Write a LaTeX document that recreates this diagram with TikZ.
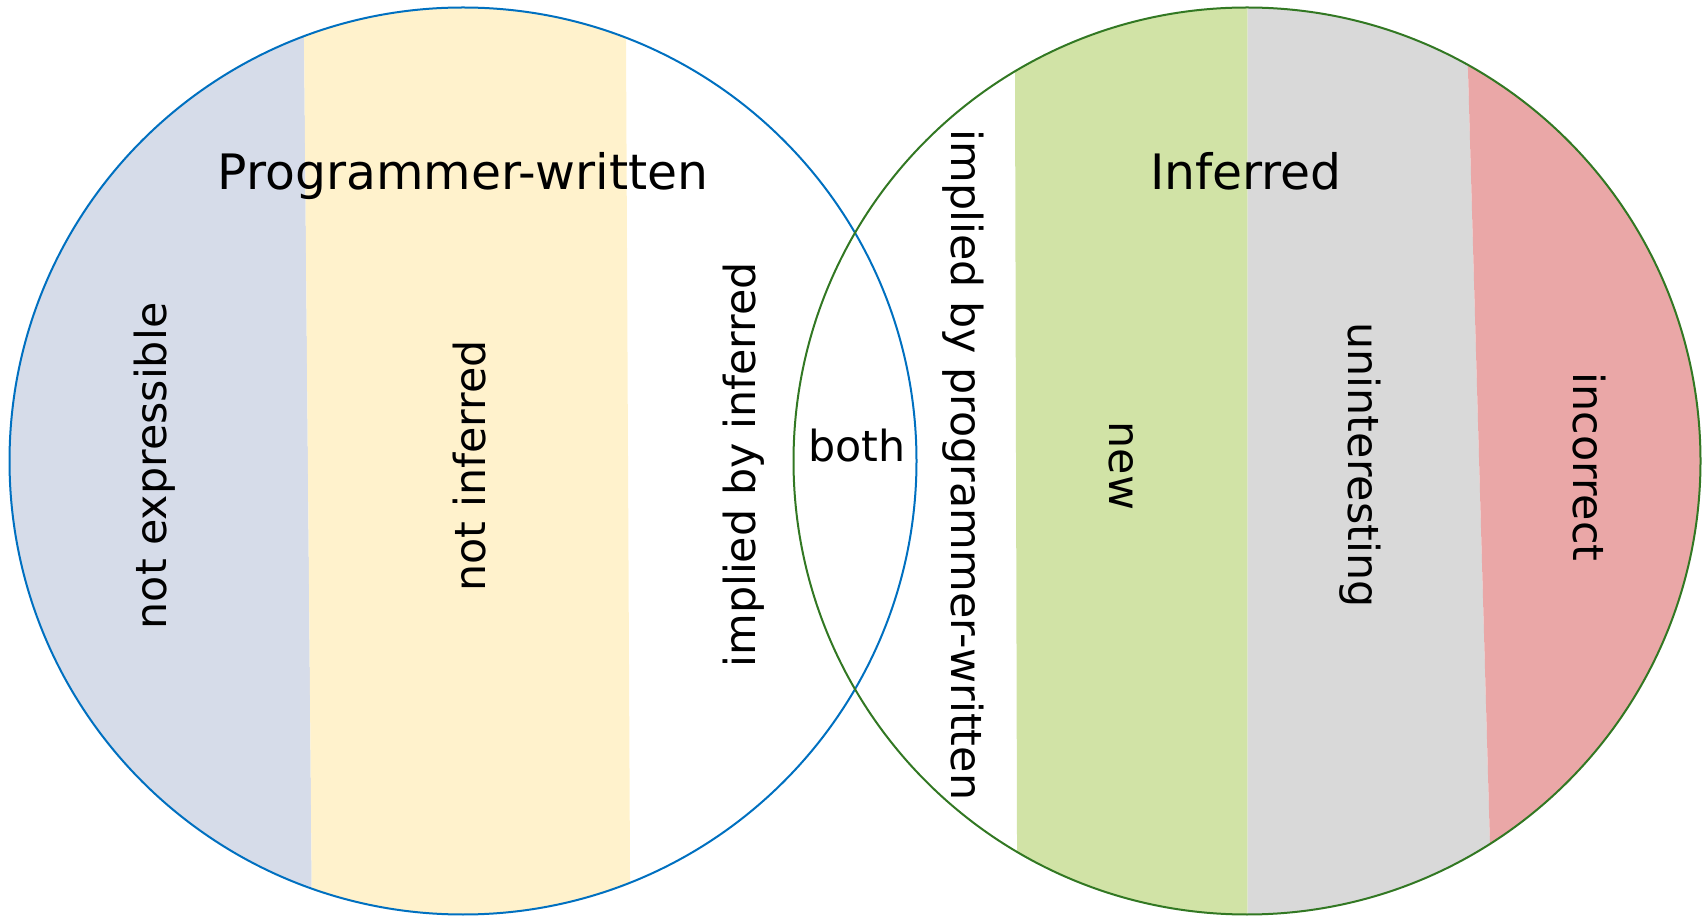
\documentclass[tikz,border=0pt]{standalone}
\usepackage{fontspec}
\setmainfont{DejaVu Sans}
\definecolor{writtenline}{RGB}{0,112,192}
\definecolor{inferredline}{RGB}{50,120,35}
\definecolor{exprfill}{RGB}{214,220,233}
\definecolor{notinffill}{RGB}{255,242,204}
\definecolor{newfill}{RGB}{209,227,166}
\definecolor{unintfill}{RGB}{217,217,217}
\definecolor{incorrfill}{RGB}{234,167,167}

\begin{document}
\begin{tikzpicture}[x=0.5pt, y=0.5pt,
    bandtext/.style={font=\fontsize{21.4}{25}\selectfont, inner sep=0pt},
    settitle/.style={font=\fontsize{24.4}{29}\selectfont, inner sep=0pt, anchor=base}]
    \useasboundingbox (0,0) rectangle (1702,916);
    \coordinate (W) at (463,455);
    \coordinate (I) at (1247,455);
    \begin{scope}
        \clip (W) circle (453.5);
        \fill[exprfill] (0,0) -- (312,0) -- (303.7,916) -- (0,916) -- cycle;
        \fill[notinffill] (312,0) -- (630.2,0) -- (625.8,916) -- (303.7,916) -- cycle;
    \end{scope}
    \begin{scope}
        \clip (I) circle (453.5);
        \fill[newfill] (1017.2,0) -- (1247.5,0) -- (1247.5,916) -- (1014.8,916) -- cycle;
        \fill[unintfill] (1247.5,0) -- (1492,0) -- (1466,916) -- (1247.5,916) -- cycle;
        \fill[incorrfill] (1492,0) -- (1702,0) -- (1702,916) -- (1466,916) -- cycle;
    \end{scope}
    \draw[writtenline, line width=1pt] (W) circle (453.5);
    \draw[inferredline, line width=1pt] (I) circle (453.5);
    \node[settitle] (written) at (463,726.5) {Programmer-written};
    \node[settitle] (inferred) at (1246,726.5) {Inferred};
    \node[bandtext, rotate=90] (notexpr) at (155,450) {not expressible};
    \node[bandtext, rotate=90] (notinf) at (470,450) {not inferred};
    \node[bandtext, rotate=90] (implinf) at (744,451) {implied by inferred};
    \node[bandtext] (both) at (857,470) {both};
    \node[bandtext, rotate=-90] (implprog) at (963,451) {implied by programmer-written};
    \node[bandtext, rotate=-90] (new) at (1121,450) {new};
    \node[bandtext, rotate=-90] (unint) at (1360,451) {uninteresting};
    \node[bandtext, rotate=-90] (incorr) at (1589,449) {incorrect};
\end{tikzpicture}
\end{document}
